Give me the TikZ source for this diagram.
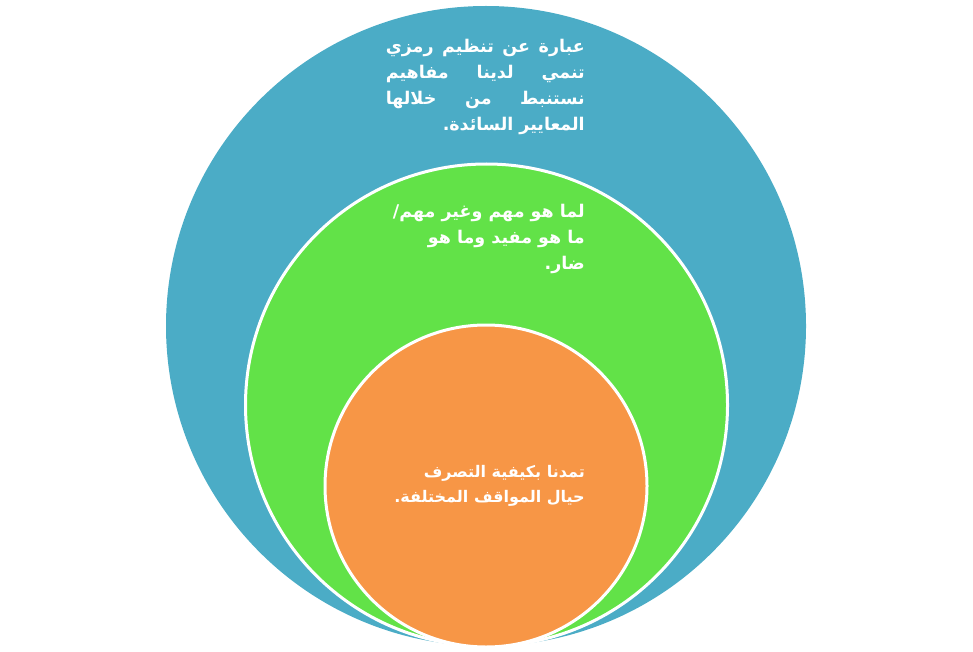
\documentclass[tikz,border=0pt]{standalone}
\usepackage{fontspec}
\newfontfamily\arabicfont[Script=Arabic]{DejaVu Sans}
\TeXXeTstate=1
\definecolor{cblue}{HTML}{4BACC6}
\definecolor{cgreen}{HTML}{62E248}
\definecolor{corange}{HTML}{F79646}
\newcommand{\jline}[2]{\hbox to #1{#2}}
\begin{document}
\begin{tikzpicture}[x=1pt,y=-1pt,
  ring/.style={circle, inner sep=0pt, draw=white, line width=3pt},
  txt/.style={text=white, inner sep=0pt, anchor=north east, align=right,
    font=\arabicfont\bfseries\fontsize{17.5}{26}\selectfont}]
\useasboundingbox (0,0) rectangle (973,652);
\node[circle, inner sep=0pt, fill=cblue, minimum size=640pt] (outer) at (486,326) {};
\node[ring, fill=cgreen, minimum size=482pt] (middle) at (486.5,405) {};
\node[ring, fill=corange, minimum size=322pt] (inner) at (486,486) {};
\node[txt] (t1) at (585,39) {%
  \jline{199pt}{\beginR عبارة\hfill عن\hfill تنظيم\hfill رمزي\endR}\\
  \jline{199pt}{\beginR تنمي\hfill لدينا\hfill مفاهيم\endR}\\
  \jline{199pt}{\beginR نستنبط\hfill من\hfill خلالها\endR}\\
  \jline{199pt}{\hfill\beginR المعايير السائدة.\endR}};
\node[txt] (t2) at (585,204) {%
  \jline{240pt}{\hfill\beginR لما هو مهم وغير مهم/\endR}\\
  \jline{240pt}{\hfill\beginR ما هو مفيد وما هو\endR}\\
  \jline{240pt}{\hfill\beginR ضار.\endR}};
\node[txt, font=\arabicfont\bfseries\fontsize{16}{25}\selectfont] (t3) at (585,465) {%
  \jline{240pt}{\hfill\beginR تمدنا بكيفية التصرف\endR}\\
  \jline{240pt}{\hfill\beginR حيال المواقف المختلفة.\endR}};
\end{tikzpicture}
\end{document}
